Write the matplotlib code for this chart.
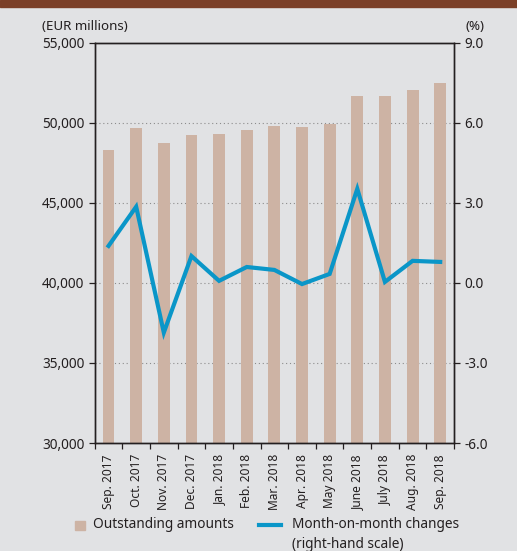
import matplotlib
matplotlib.use("Agg")
import matplotlib.pyplot as plt
import numpy as np
from matplotlib.patches import Rectangle
from matplotlib.lines import Line2D

plt.rcParams['font.family'] = ['Noto Sans', 'DejaVu Sans']

# monthly data, Sep. 2017 - Sep. 2018
months = ["Sep. 2017", "Oct. 2017", "Nov. 2017", "Dec. 2017", "Jan. 2018",
          "Feb. 2018", "Mar. 2018", "Apr. 2018", "May 2018", "June 2018",
          "July 2018", "Aug. 2018", "Sep. 2018"]
outstanding = [48310, 49690, 48750, 49250, 49310, 49560, 49810,
               49750, 49940, 51690, 51690, 52060, 52520]   # EUR millions
mom_change = [1.39, 2.86, -1.86, 1.01, 0.08, 0.60, 0.49,
              -0.04, 0.34, 3.53, 0.04, 0.83, 0.79]          # %

left_ticks = [30000, 35000, 40000, 45000, 50000, 55000]
right_ticks = [-6.0, -3.0, 0.0, 3.0, 6.0, 9.0]

bg = "#e1e2e4"
bar_col = "#cdb3a4"
line_col = "#0a96c8"
txt = "#231f20"

fig = plt.figure(figsize=(5.17, 5.51), dpi=100, facecolor=bg)
ax = fig.add_axes([0.1832, 0.196, 0.695, 0.726])
ax.set_facecolor(bg)
ax2 = ax.twinx()

x = np.arange(len(months))

# grid behind bars
for v in left_ticks[1:-1]:
    ax.axhline(v, color="#8c8c8c", lw=0.8, ls=(0, (1, 2.5)), zorder=0)

ax.bar(x, outstanding, width=0.43, color=bar_col, zorder=2)
ax2.plot(x, mom_change, color=line_col, lw=3, solid_joinstyle="miter", zorder=3)

ax.set_xlim(-0.5, len(months) - 0.5)
ax.set_ylim(30000, 55000)
ax2.set_ylim(-6, 9)

ax.set_yticks(left_ticks)
ax.set_yticklabels([f"{v:,}" for v in left_ticks])
ax2.set_yticks(right_ticks)
ax2.set_yticklabels([f"{v:.1f}" for v in right_ticks])

ax.set_xticks(x)
ax.set_xticklabels(months, rotation=90)
ax.set_xticks(np.arange(-0.5, len(months)), minor=True)
ax.tick_params(axis="x", which="major", length=0, pad=8, labelsize=8.6, colors=txt)
ax.tick_params(axis="x", which="minor", length=4.5, width=0.9, color=txt)
ax.tick_params(axis="y", length=4.5, width=0.9, pad=3, labelsize=9.8, colors=txt)
ax2.tick_params(axis="y", length=4.5, width=0.9, pad=3, labelsize=9.8, colors=txt)

for a in (ax, ax2):
    for s in a.spines.values():
        s.set_color(txt)
        s.set_linewidth(1.0)

# header units
fig.text(42 / 517, 1 - 26 / 551, "(EUR millions)", fontsize=9.6, color=txt, va="center", ha="left")
fig.text(485 / 517, 1 - 26 / 551, "(%)", fontsize=9.6, color=txt, va="center", ha="right")

# brown strip at the top
fig.patches.append(Rectangle((0, 1 - 7 / 551), 1, 7 / 551, transform=fig.transFigure,
                             color="#7b3f27", zorder=5))

# legend
fig.patches.append(Rectangle((75 / 517, 1 - 530 / 551), 10 / 517, 9.5 / 551,
                             transform=fig.transFigure, color=bar_col))
fig.text(93 / 517, 1 - 525 / 551, "Outstanding amounts", fontsize=9.8, color=txt,
         va="center", ha="left")
fig.lines.append(Line2D([259 / 517, 281 / 517], [1 - 525 / 551, 1 - 525 / 551],
                        transform=fig.transFigure, color=line_col, lw=3))
fig.text(292 / 517, 1 - 525 / 551, "Month-on-month changes", fontsize=9.8, color=txt,
         va="center", ha="left")
fig.text(292 / 517, 1 - 545 / 551, "(right-hand scale)", fontsize=9.8, color=txt,
         va="center", ha="left")

fig.savefig("out.png", dpi=100, facecolor=bg)
